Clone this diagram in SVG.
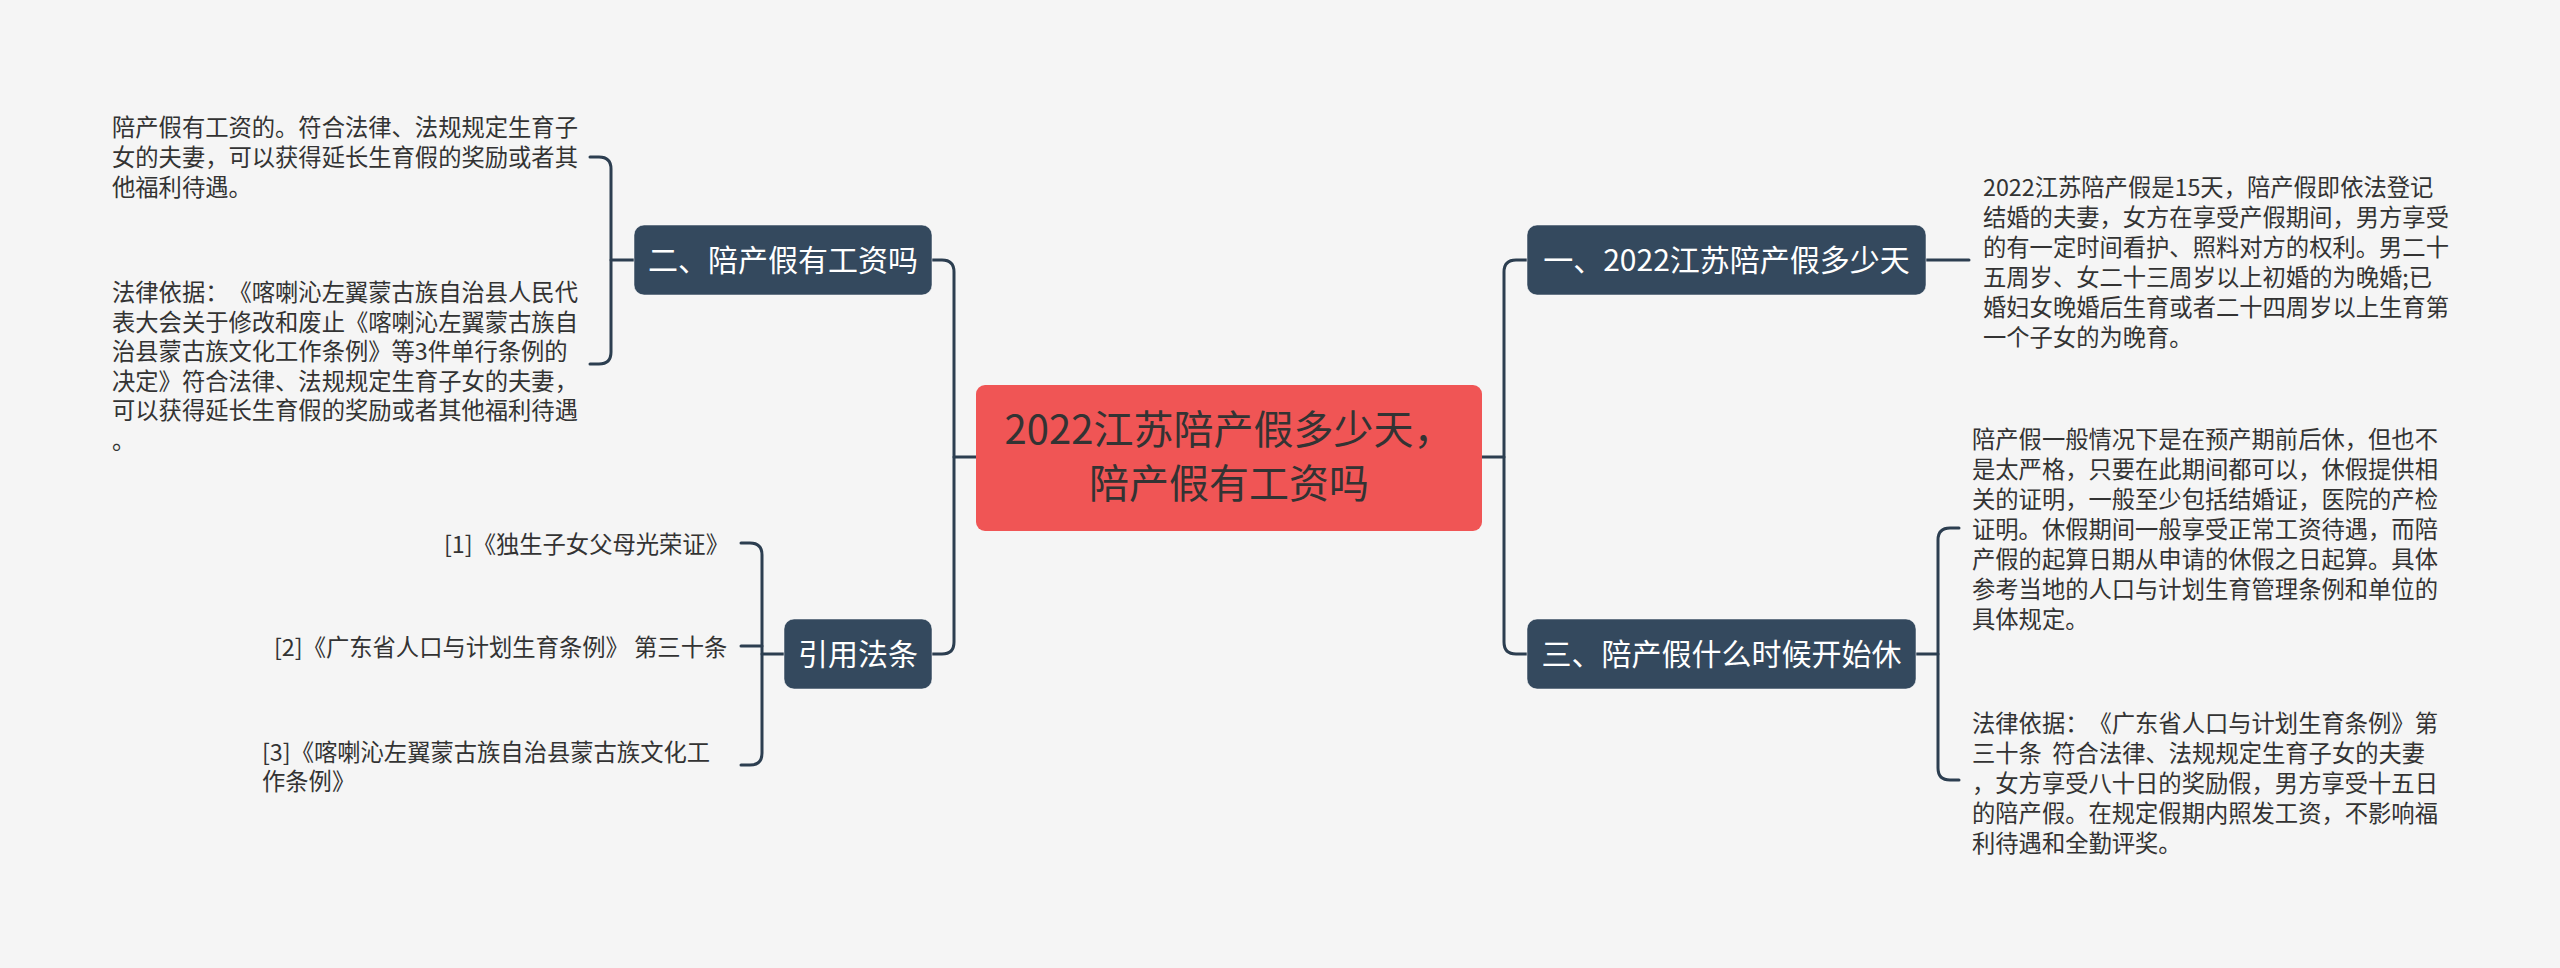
<svg xmlns="http://www.w3.org/2000/svg" width="2560" height="968" viewBox="0 0 2560 968">
<style>
.bg{fill:#f5f5f5}
text{text-spacing-trim:space-all}
.topic{fill:#34495e;stroke:#ffffff;stroke-opacity:0.5;stroke-width:1}
.topic-t{font-family:"Noto Sans CJK SC","Noto Sans",sans-serif;font-size:30px;fill:#ffffff;text-anchor:middle}
.root{fill:#f05555}
.root-t{font-family:"Noto Sans CJK SC","Noto Sans",sans-serif;font-size:40px;fill:#333333;text-anchor:middle}
.leaf{font-family:"Noto Sans CJK SC","Noto Sans",sans-serif;font-size:23.3px;fill:#333333}
.conn{fill:none;stroke:#2c3e50;stroke-width:3;stroke-linecap:round}
</style>
<rect class="bg" x="0" y="0" width="2560" height="968"/>
<g id="connectors">
<path class="conn" d="M976,457 H954"/>
<path class="conn" d="M932,260 H942 Q954,260 954,272 V642 Q954,654 942,654 H932"/>
<path class="conn" d="M1482,457 H1504"/>
<path class="conn" d="M1527,260 H1516 Q1504,260 1504,272 V642 Q1504,654 1516,654 H1527"/>
<path class="conn" d="M1926,260 H1969"/>
<path class="conn" d="M1916,654 H1938"/>
<path class="conn" d="M1959,528 H1950 Q1938,528 1938,540 V768 Q1938,780 1950,780 H1959"/>
<path class="conn" d="M634,260 H611"/>
<path class="conn" d="M590,157 H599 Q611,157 611,169 V352 Q611,364 599,364 H590"/>
<path class="conn" d="M784,654 H762"/>
<path class="conn" d="M741,543 H750 Q762,543 762,555 V753 Q762,765 750,765 H741"/>
<path class="conn" d="M741,646 H762"/>
</g>
<g id="root">
<rect class="root" x="976" y="385" width="506" height="146" rx="9"/>
<text class="root-t" x="1229" y="444">2022江苏陪产假多少天，</text>
<text class="root-t" x="1229" y="498">陪产假有工资吗</text>
</g>
<g id="topic1">
<rect class="topic" x="1527" y="225" width="399" height="70" rx="10"/>
<text class="topic-t" x="1726.5" y="271">一、2022江苏陪产假多少天</text>
</g>
<g id="topic2">
<rect class="topic" x="634" y="225" width="298" height="70" rx="10"/>
<text class="topic-t" x="783" y="271">二、陪产假有工资吗</text>
</g>
<g id="topic3">
<rect class="topic" x="1527" y="619" width="389" height="70" rx="10"/>
<text class="topic-t" x="1721.5" y="665">三、陪产假什么时候开始休</text>
</g>
<g id="topic4">
<rect class="topic" x="784" y="619" width="148" height="70" rx="10"/>
<text class="topic-t" x="858" y="665">引用法条</text>
</g>
<g id="leaf1">
<text class="leaf" x="1983" y="196">2022江苏陪产假是15天，陪产假即依法登记</text>
<text class="leaf" x="1983" y="226">结婚的夫妻，女方在享受产假期间，男方享受</text>
<text class="leaf" x="1983" y="256">的有一定时间看护、照料对方的权利。男二十</text>
<text class="leaf" x="1983" y="286">五周岁、女二十三周岁以上初婚的为晚婚;已</text>
<text class="leaf" x="1983" y="316">婚妇女晚婚后生育或者二十四周岁以上生育第</text>
<text class="leaf" x="1983" y="346">一个子女的为晚育。</text>
</g>
<g id="leaf3a">
<text class="leaf" x="1972" y="448">陪产假一般情况下是在预产期前后休，但也不</text>
<text class="leaf" x="1972" y="478">是太严格，只要在此期间都可以，休假提供相</text>
<text class="leaf" x="1972" y="508">关的证明，一般至少包括结婚证，医院的产检</text>
<text class="leaf" x="1972" y="538">证明。休假期间一般享受正常工资待遇，而陪</text>
<text class="leaf" x="1972" y="568">产假的起算日期从申请的休假之日起算。具体</text>
<text class="leaf" x="1972" y="598">参考当地的人口与计划生育管理条例和单位的</text>
<text class="leaf" x="1972" y="628">具体规定。</text>
</g>
<g id="leaf3b">
<text class="leaf" x="1972" y="732">法律依据：《广东省人口与计划生育条例》第</text>
<text class="leaf" x="1972" y="762" xml:space="preserve">三十条  符合法律、法规规定生育子女的夫妻</text>
<text class="leaf" x="1972" y="792">，女方享受八十日的奖励假，男方享受十五日</text>
<text class="leaf" x="1972" y="822">的陪产假。在规定假期内照发工资，不影响福</text>
<text class="leaf" x="1972" y="852">利待遇和全勤评奖。</text>
</g>
<g id="leaf2a">
<text class="leaf" x="112" y="136">陪产假有工资的。符合法律、法规规定生育子</text>
<text class="leaf" x="112" y="166">女的夫妻，可以获得延长生育假的奖励或者其</text>
<text class="leaf" x="112" y="196">他福利待遇。</text>
</g>
<g id="leaf2b">
<text class="leaf" x="112" y="301">法律依据：《喀喇沁左翼蒙古族自治县人民代</text>
<text class="leaf" x="112" y="330.5">表大会关于修改和废止《喀喇沁左翼蒙古族自</text>
<text class="leaf" x="112" y="360">治县蒙古族文化工作条例》等3件单行条例的</text>
<text class="leaf" x="112" y="389.5">决定》符合法律、法规规定生育子女的夫妻，</text>
<text class="leaf" x="112" y="419">可以获得延长生育假的奖励或者其他福利待遇</text>
<text class="leaf" x="112" y="448.5">。</text>
</g>
<g id="ref1">
<text class="leaf" x="444" y="553">[1]《独生子女父母光荣证》</text>
</g>
<g id="ref2">
<text class="leaf" x="274" y="656">[2]《广东省人口与计划生育条例》 第三十条</text>
</g>
<g id="ref3">
<text class="leaf" x="262" y="761">[3]《喀喇沁左翼蒙古族自治县蒙古族文化工</text>
<text class="leaf" x="262" y="790">作条例》</text>
</g>
</svg>
